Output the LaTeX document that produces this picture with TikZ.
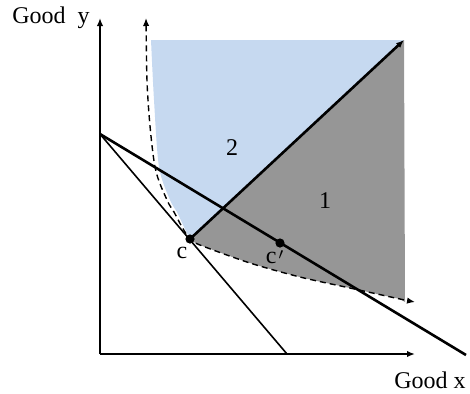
\documentclass[tikz,border=0pt]{standalone}
\usepackage{fontspec}
\setmainfont{Liberation Serif}
\usetikzlibrary{arrows.meta}
\definecolor{PaleBlue}{RGB}{198,217,240}
\definecolor{MidGray}{RGB}{150,150,150}

\begin{document}
\begin{tikzpicture}[x=.5pt,y=-.5pt,>={Latex[length=4pt,width=3.2pt]},font=\fontsize{12}{14}\selectfont]
\useasboundingbox(0,0)rectangle(470,393);
\coordinate (O) at (100,354);
\coordinate (Ytip) at (100,18);
\coordinate (Xtip) at (415,354);
\coordinate (A) at (100,134);
\coordinate (B) at (287,354);
\coordinate (E) at (466,355);
\coordinate (c) at (190,239);
\coordinate (cp) at (280,243);
\coordinate (T) at (404,40);
% regions
\fill[PaleBlue](151,40)--(T)--(c)--plot[smooth]coordinates{(184,227)(177,212)(170,200)(159,167)(154,100)(151,40)}--cycle;
\fill[MidGray](c)--(T)--(405,302)--plot[smooth]coordinates{(400,299)(350,288)(300,277)(250,263)(200,245)(190,239)}--cycle;
% axes
\draw[->,line width=.8pt](O)--(Ytip);
\draw[->,line width=.8pt](O)--(Xtip);
% indifference curve
\draw[<->,dashed,dash pattern=on 3pt off 2pt,line width=.7pt]plot[smooth]coordinates{(146,18)(148,100)(155,167)(167,200)(174,212)(182,227)(190,239)(200,245)(250,263)(300,277)(350,288)(400,299)(415,302)};
% budget lines
\draw[line width=.8pt](A)--(B);
\draw[line width=1.3pt](A)--(E);
\draw[->,line width=1.3pt](c)--(T);
\foreach \p in {c,cp}{\fill(\p)circle[radius=2.3pt];}
\node[anchor=base](lc)at(182,258){c};
\node[anchor=base](lcp)at(275,263){c\kern1pt\raisebox{-2.5pt}{$'$}};
\node(two)at(232,148){2};
\node(one)at(325,201){1};
\node[anchor=base](gy)at(51,23){Good\ \ y};
\node[anchor=base](gx)at(430,388){Good x};
\end{tikzpicture}
\end{document}
